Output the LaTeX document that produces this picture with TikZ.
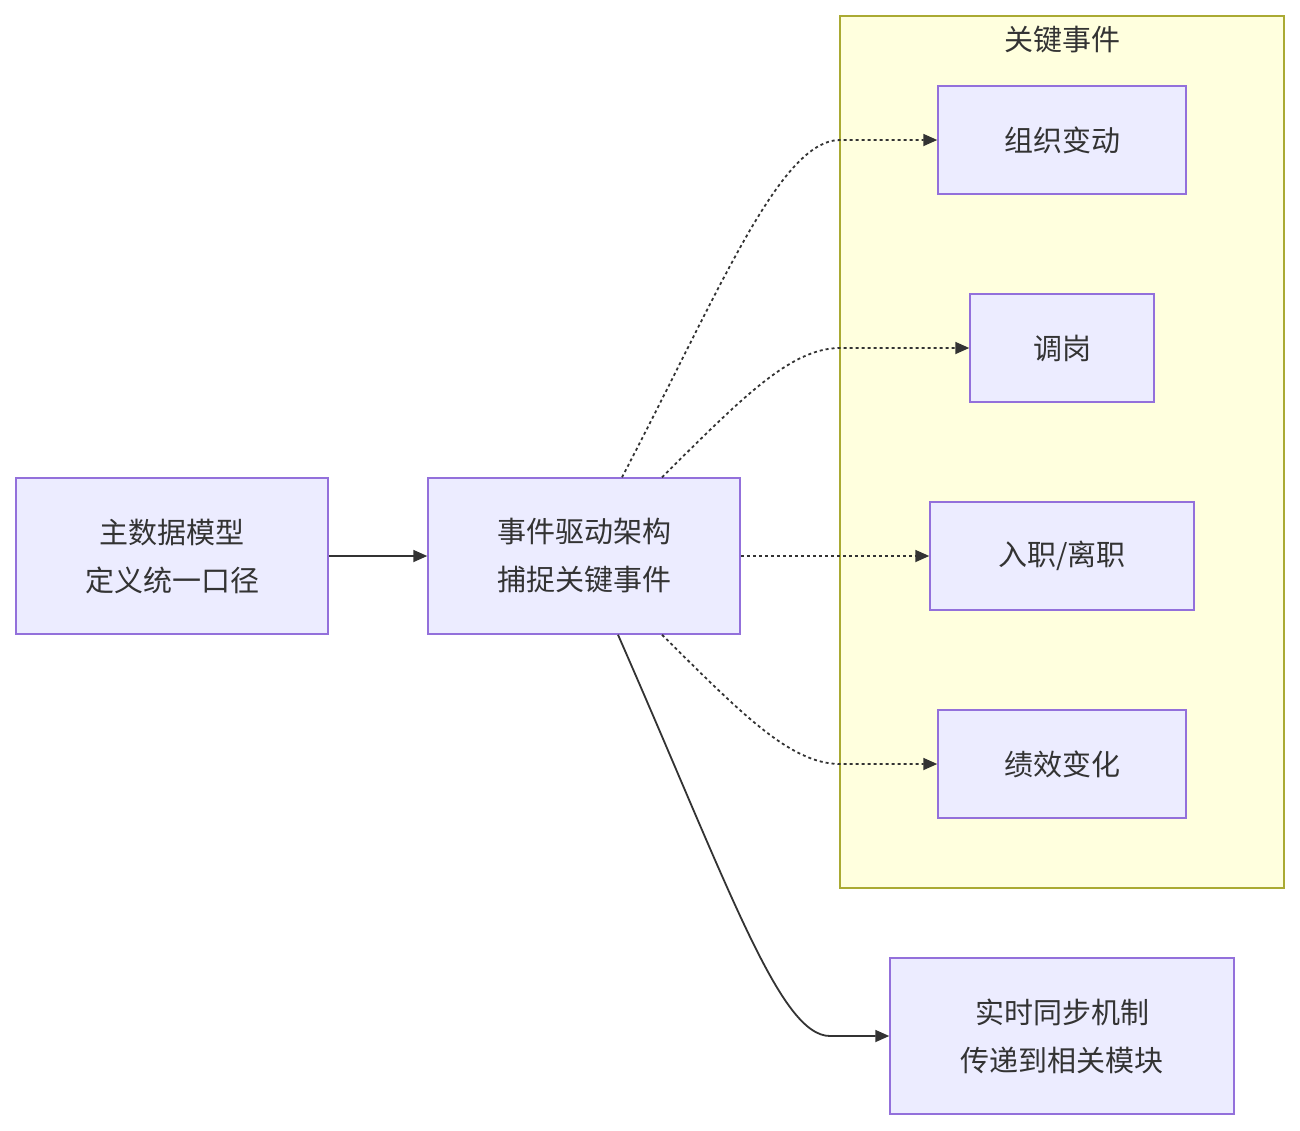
\documentclass[tikz,border=0pt]{standalone}
\usepackage{fontspec}
\setmainfont{Noto Sans CJK SC}
\usetikzlibrary{arrows.meta}
\definecolor{nodefill}{HTML}{ECECFF}
\definecolor{nodeline}{HTML}{9370DB}
\definecolor{clfill}{HTML}{FFFFDE}
\definecolor{clline}{HTML}{AAAA33}
\definecolor{ink}{HTML}{333333}
\tikzset{
  box/.style={draw=nodeline,fill=nodefill,line width=1.5pt,inner sep=0pt,text=ink,align=center,font=\fontsize{29}{48}\selectfont},
  link/.style={draw=ink,line width=1.8pt,-{Triangle[length=14pt,width=12pt]}},
  dot/.style={link,dash pattern=on 3pt off 3pt}
}
\begin{document}
\begin{tikzpicture}[x=1pt,y=-1pt]
\useasboundingbox (0,0) rectangle (1300,1130);
\draw[clline,fill=clfill,line width=1.5pt] (840,16) rectangle (1284,888);
\node[text=ink,font=\fontsize{29}{36}\selectfont] (title) at (1062,40) {关键事件};
\node[box,minimum width=312pt,minimum height=156pt] (A) at (172,556) {主数据模型\\定义统一口径};
\node[box,minimum width=312pt,minimum height=156pt] (B) at (584,556) {事件驱动架构\\捕捉关键事件};
\node[box,minimum width=248pt,minimum height=108pt] (C1) at (1062,140) {组织变动};
\node[box,minimum width=184pt,minimum height=108pt] (C2) at (1062,348) {调岗};
\node[box,minimum width=264pt,minimum height=108pt] (C3) at (1062,556) {入职/离职};
\node[box,minimum width=248pt,minimum height=108pt] (C4) at (1062,764) {绩效变化};
\node[box,minimum width=344pt,minimum height=156pt] (D) at (1062,1036) {实时同步机制\\传递到相关模块};
\draw[link] (A) -- (B);
\draw[dot] ([xshift=38pt]B.north) .. controls (720,290) and (780,140) .. (840,140) -- (C1.west);
\draw[dot] ([xshift=78pt]B.north) .. controls (740,400) and (790,348) .. (840,348) -- (C2.west);
\draw[dot] (B.east) -- (C3.west);
\draw[dot] ([xshift=78pt]B.south) .. controls (740,712) and (790,764) .. (840,764) -- (C4.west);
\draw[link] ([xshift=34pt]B.south) .. controls (730,890) and (780,1036) .. (830,1036) -- (D.west);
\end{tikzpicture}
\end{document}
